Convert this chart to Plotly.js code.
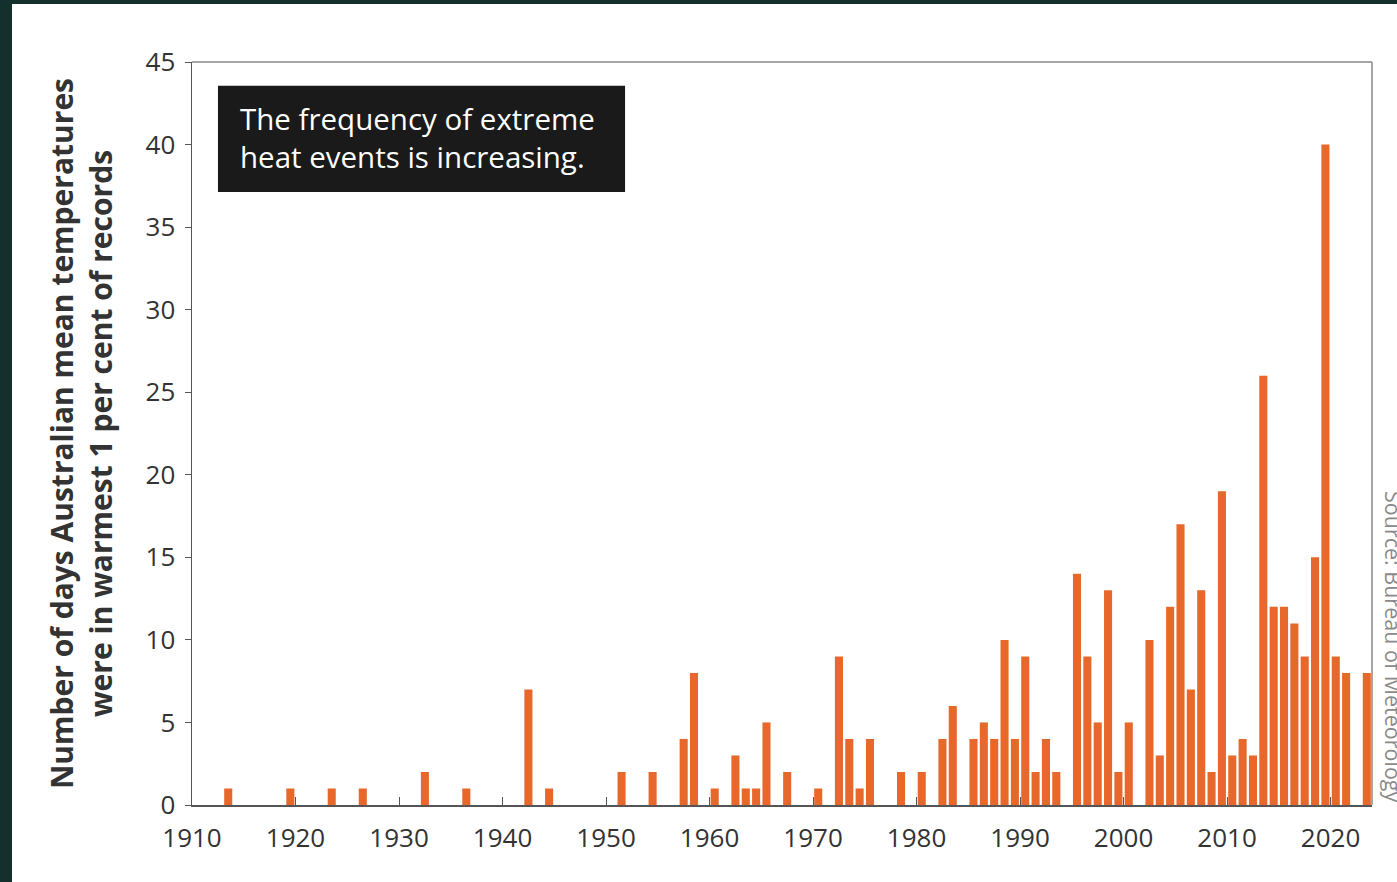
<!DOCTYPE html>
<html>
<head>
<meta charset="utf-8">
<script src="https://cdn.plot.ly/plotly-3.0.1.min.js"></script>
<style>
  html, body { margin: 0; padding: 0; background: #14302c; width: 1397px; height: 882px; overflow: hidden; }
  #chart { position: absolute; left: 12px; top: 4px; width: 1385px; height: 878px; background: #ffffff; }
</style>
</head>
<body>
<div id="chart"></div>
<script>
// Data
const years = [1913, 1919, 1923, 1926, 1932, 1936, 1942, 1944, 1951, 1954, 1957, 1958, 1960, 1962, 1963, 1964, 1965, 1967, 1970, 1972, 1973, 1974, 1975, 1978, 1980, 1982, 1983, 1985, 1986, 1987, 1988, 1989, 1990, 1991, 1992, 1993, 1995, 1996, 1997, 1998, 1999, 2000, 2002, 2003, 2004, 2005, 2006, 2007, 2008, 2009, 2010, 2011, 2012, 2013, 2014, 2015, 2016, 2017, 2018, 2019, 2020, 2021, 2023];
const days  = [1, 1, 1, 1, 2, 1, 7, 1, 2, 2, 4, 8, 1, 3, 1, 1, 5, 2, 1, 9, 4, 1, 4, 2, 2, 4, 6, 4, 5, 4, 10, 4, 9, 2, 4, 2, 14, 9, 5, 13, 2, 5, 10, 3, 12, 17, 7, 13, 2, 19, 3, 4, 3, 26, 12, 12, 11, 9, 15, 40, 9, 8, 8];
const decadeTicks = [1910, 1920, 1930, 1940, 1950, 1960, 1970, 1980, 1990, 2000, 2010, 2020];
const yTicks = [0, 5, 10, 15, 20, 25, 30, 35, 40, 45];

const yTitle = "Number of days Australian mean temperatures<br>were in warmest 1 per cent of records";
const callout = "The frequency of extreme<br>heat events is increasing.";
const sourceText = "Source: Bureau of Meteorology";

const FONT = "Open Sans, Noto Sans, sans-serif";

const trace = {
  type: "bar",
  x: years,
  y: days,
  marker: { color: "#e8682b", line: { width: 0 } },
  hoverinfo: "x+y"
};

const layout = {
  width: 1385,
  height: 878,
  paper_bgcolor: "#ffffff",
  plot_bgcolor: "#ffffff",
  margin: { l: 180, r: 25, t: 58, b: 77 },
  bargap: 0.22,
  showlegend: false,
  font: { family: FONT, color: "#333333" },
  xaxis: {
    range: [1909.5, 2023.5],
    tickmode: "array",
    tickvals: decadeTicks.map(d => d - 0.5),
    ticktext: decadeTicks.map(String),
    ticks: "inside",
    ticklen: 8,
    tickcolor: "#555555",
    tickfont: { family: FONT, size: 26, color: "#333333" },
    ticklabelstandoff: 9,
    showgrid: false,
    zeroline: false,
    showline: true,
    linecolor: "#555555",
    linewidth: 1.5,
    mirror: false
  },
  yaxis: {
    range: [0, 45],
    tickmode: "array",
    tickvals: yTicks,
    ticktext: yTicks.map(String),
    ticks: "outside",
    ticklen: 6,
    tickcolor: "#555555",
    tickfont: { family: FONT, size: 26, color: "#333333" },
    ticklabelstandoff: 4,
    showgrid: false,
    zeroline: false,
    showline: true,
    linecolor: "#555555",
    linewidth: 1.5,
    title: {
      text: yTitle,
      font: { family: FONT, size: 30, color: "#333333", weight: "bold" },
      standoff: 24
    }
  },
  shapes: [
    { type: "line", xref: "paper", yref: "paper", x0: 0, x1: 1, y0: 1, y1: 1, line: { color: "#888888", width: 1.5 } },
    { type: "line", xref: "paper", yref: "paper", x0: 1, x1: 1, y0: 0, y1: 1, line: { color: "#888888", width: 1.5 } },
    { type: "rect", xref: "paper", yref: "paper", x0: 0.022, x1: 0.367, y0: 0.825, y1: 0.968, fillcolor: "#1a1a1a", line: { width: 0 }, layer: "above" }
  ],
  annotations: [
    {
      xref: "paper", yref: "paper",
      x: 0.039, y: 0.898,
      xanchor: "left", yanchor: "middle",
      text: callout,
      align: "left",
      showarrow: false,
      font: { family: FONT, size: 29.5, color: "#ffffff" }
    },
    {
      xref: "paper", yref: "paper",
      x: 1.0, xshift: 22,
      y: 0.0,
      xanchor: "center", yanchor: "bottom",
      text: sourceText,
      textangle: 90,
      showarrow: false,
      font: { family: FONT, size: 21.5, color: "#8a8a8a" }
    }
  ]
};

Plotly.newPlot("chart", [trace], layout, { displayModeBar: false, staticPlot: true });
</script>
</body>
</html>
